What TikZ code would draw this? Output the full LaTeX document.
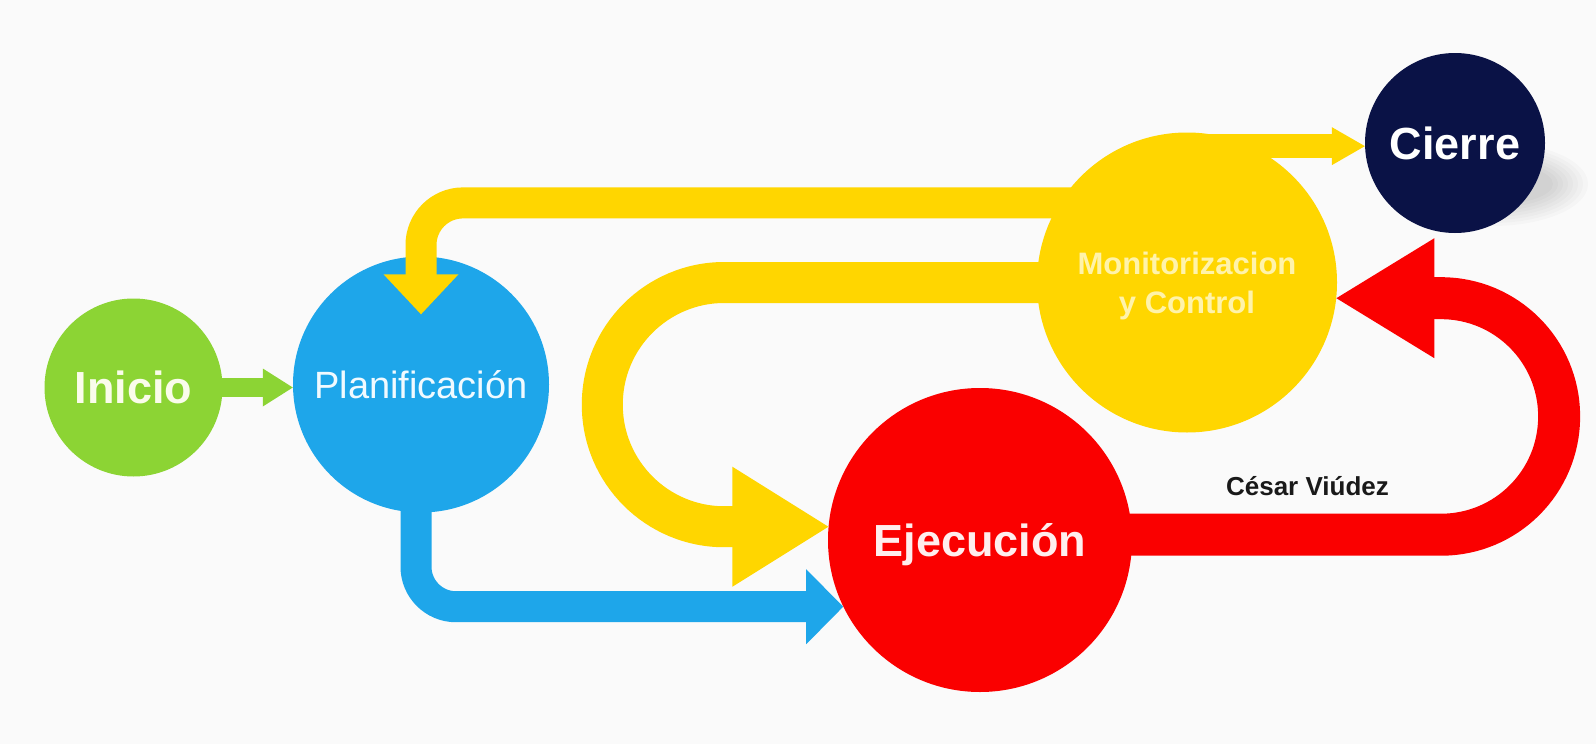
\documentclass[tikz,border=0pt]{standalone}
\usepackage{fontspec}
\setmainfont{Liberation Sans}
\usetikzlibrary{calc}

\definecolor{fondo}{RGB}{250,250,250}
\definecolor{verde}{RGB}{140,212,52}
\definecolor{azul}{RGB}{30,166,234}
\definecolor{amarillo}{RGB}{255,214,0}
\definecolor{rojo}{RGB}{250,0,0}
\definecolor{marino}{RGB}{10,18,70}
\definecolor{txtverde}{RGB}{250,252,235}
\definecolor{txtazul}{RGB}{240,250,255}
\definecolor{txtamarillo}{RGB}{255,243,170}
\definecolor{txtrojo}{RGB}{255,238,238}
\definecolor{autor}{RGB}{25,25,25}

\begin{document}
\begin{tikzpicture}[x=1pt, y=-1pt,
	fase/.style={shape=circle, inner sep=0pt, text depth=0pt},
	banda/.style={line cap=butt}]
	\fill[fondo] (0,0) rectangle (1596,744);

	\node[fase, fill=verde, minimum size=178pt, text height=32pt, text=txtverde, font=\fontsize{45}{54}\selectfont\bfseries] (ini) at (133.5,387.5) {Inicio};
	\node[fase, fill=azul, minimum size=256pt, text height=27pt, text=txtazul, font=\fontsize{38}{46}\selectfont] (plan) at (421,384.5) {Planificación};
	\node[fase, fill=amarillo, minimum size=300pt, align=center, text=txtamarillo, font=\fontsize{31}{39}\selectfont\bfseries] (moni) at (1187,282.5) {Monitorizacion\\y Control};
	\node[fase, fill=rojo, minimum size=304pt, text height=32pt, text=txtrojo, font=\fontsize{45}{54}\selectfont\bfseries] (ejec) at (980,540) {Ejecución};
	\foreach \k in {1,...,8}
		\fill[black, opacity=0.018] (1492,184) ellipse[x radius=56+5*\k, y radius=18+3*\k];
	\node[fase, fill=marino, minimum size=180pt, text height=32pt, text=white, font=\fontsize{45}{54}\selectfont\bfseries] (cierre) at (1455,143) {Cierre};
	\node[anchor=base, text=autor, font=\fontsize{26}{31}\selectfont\bfseries] (firma) at (1307.5,495) {César Viúdez};

	\coordinate (pIni) at (plan.west |- ini.east);
	\draw[banda, verde, line width=19pt] ([xshift=-5pt]ini.east) -- ($(pIni)+(-27,0)$);
	\fill[verde] (pIni) -- ++(-30,-19) -- ++(0,38) -- cycle;

	\draw[banda, azul, line width=31pt, rounded corners=40pt] ([xshift=-5pt,yshift=4pt]plan.south) |- ($(ejec.206)+(-34,0)$);
	\fill[azul] (ejec.206) -- ++(-37,-37.5) -- ++(0,75) -- cycle;

	\draw[banda, amarillo, line width=31pt, rounded corners=42pt] ([xshift=15pt]moni.148) -| ($(plan.north)+(0,20)$);
	\fill[amarillo] ($(plan.north)+(0,58)$) -- ++(-37.5,-40) -- ++(75,0) -- cycle;

	\draw[banda, amarillo, line width=41pt, rounded corners=122pt] ([xshift=10pt]moni.west) -- ++(-444.5,0) |- ($(ejec.175)+(-92,0)$);
	\fill[amarillo] (ejec.175) -- ++(-96,-60) -- ++(0,120) -- cycle;

	\draw[banda, amarillo, line width=24pt] (moni.north |- cierre.182) -- ($(cierre.182)+(-30,0)$);
	\fill[amarillo] (cierre.182) -- ++(-33,-19) -- ++(0,38) -- cycle;

	\draw[banda, rojo, line width=42pt, rounded corners=118pt] ([xshift=-15pt]ejec.2) -- ++(442,0) |- ($(moni.354)+(94,0)$);
	\fill[rojo] (moni.354) -- ++(98,-60) -- ++(0,120) -- cycle;
\end{tikzpicture}
\end{document}
